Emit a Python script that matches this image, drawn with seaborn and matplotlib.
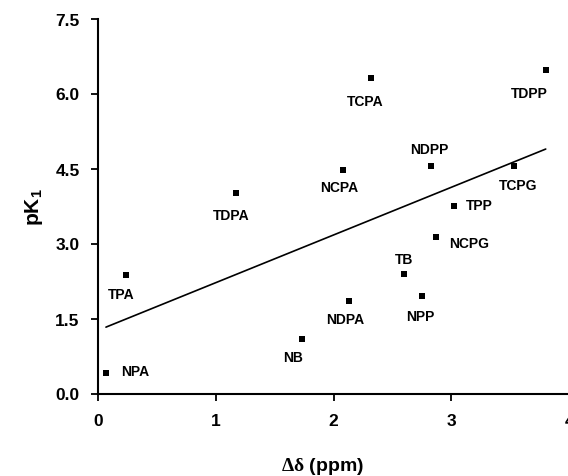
import matplotlib
matplotlib.use("Agg")
import matplotlib.pyplot as plt
import seaborn as sns
import pandas as pd

# ---- data ----
compounds = ["NPA", "TPA", "TDPA", "NB", "NDPA", "TB", "NPP", "NCPG",
             "TPP", "TCPG", "NDPP", "NCPA", "TCPA", "TDPP"]
delta_ppm = [0.07, 0.24, 1.17, 1.73, 2.13, 2.60, 2.75, 2.87,
             3.02, 3.53, 2.83, 2.08, 2.32, 3.80]
pK1 = [0.41, 2.37, 4.02, 1.09, 1.86, 2.39, 1.95, 3.14,
       3.76, 4.56, 4.56, 4.48, 6.32, 6.47]
x_ticks = [0, 1, 2, 3, 4]
y_ticks = [0.0, 1.5, 3.0, 4.5, 6.0, 7.5]

df = pd.DataFrame({"delta": delta_ppm, "pK1": pK1, "name": compounds})

# ---- label placement (pixel offsets, ha) ----
label_style = {
    "NPA": (15, 2, "left"), "TPA": (-5, -19, "center"), "TDPA": (-4, -22, "center"),
    "NB": (-9, -18, "center"), "NDPA": (-4, -18, "center"), "TB": (0, 15, "center"),
    "NPP": (-2, -20, "center"), "NCPG": (13, -7, "left"), "TPP": (12, 0, "left"),
    "TCPG": (4, -20, "center"), "NDPP": (-2, 17, "center"), "NCPA": (-4, -18, "center"),
    "TCPA": (-6, -23, "center"), "TDPP": (-16, -23, "center"),
}

sns.set_theme(style="ticks")
plt.rcParams["font.family"] = ["Liberation Sans", "DejaVu Sans"]
plt.rcParams["font.weight"] = "bold"
plt.rcParams["mathtext.fontset"] = "custom"
plt.rcParams["mathtext.rm"] = "Liberation Serif"
plt.rcParams["mathtext.it"] = "Liberation Serif"
plt.rcParams["mathtext.bf"] = "Liberation Sans:bold"

fig = plt.figure(figsize=(5.68, 4.77), dpi=100)
ax = fig.add_axes([97.7 / 568, 82.5 / 477, (569.3 - 97.7) / 568, 375 / 477])

sns.regplot(data=df, x="delta", y="pK1", scatter=False, ci=None, ax=ax,
            line_kws={"color": "black", "linewidth": 1.2}, truncate=True)
sns.scatterplot(data=df, x="delta", y="pK1", marker="s", s=20, color="black",
                edgecolor="black", linewidth=0, ax=ax, zorder=3)

for name, xv, yv in zip(compounds, delta_ppm, pK1):
    dx, dy, ha = label_style[name]
    ax.annotate(name, (xv, yv), xytext=(dx, dy), textcoords="offset pixels",
                ha=ha, va="center", fontsize=10, fontweight="bold", color="black")

ax.set_xlim(0, 4)
ax.set_ylim(0, 7.5)
ax.set_xticks(x_ticks)
ax.set_xticklabels([str(t) for t in x_ticks])
ax.set_yticks(y_ticks)
ax.set_yticklabels([f"{t:.1f}" for t in y_ticks])
ax.tick_params(axis="both", direction="out", length=5, width=1.3, labelsize=12.5,
               color="black", labelcolor="black")
ax.tick_params(axis="y", pad=8)
ax.tick_params(axis="x", pad=9)
for lab in ax.get_xticklabels() + ax.get_yticklabels():
    lab.set_fontweight("bold")

for side in ["top", "right"]:
    ax.spines[side].set_visible(False)
for side in ["left", "bottom"]:
    ax.spines[side].set_linewidth(1.5)
    ax.spines[side].set_color("black")

ax.set_xlabel(r"$\Delta\delta$ (ppm)", fontsize=14, fontweight="bold", color="black")
ax.set_ylabel(r"pK$_{\mathbf{1}}$", fontsize=15, fontweight="bold", color="black")
ax.xaxis.set_label_coords(0.477, -0.163)
ax.yaxis.set_label_coords(-0.112, 0.5)

fig.savefig("out.png", dpi=100)
